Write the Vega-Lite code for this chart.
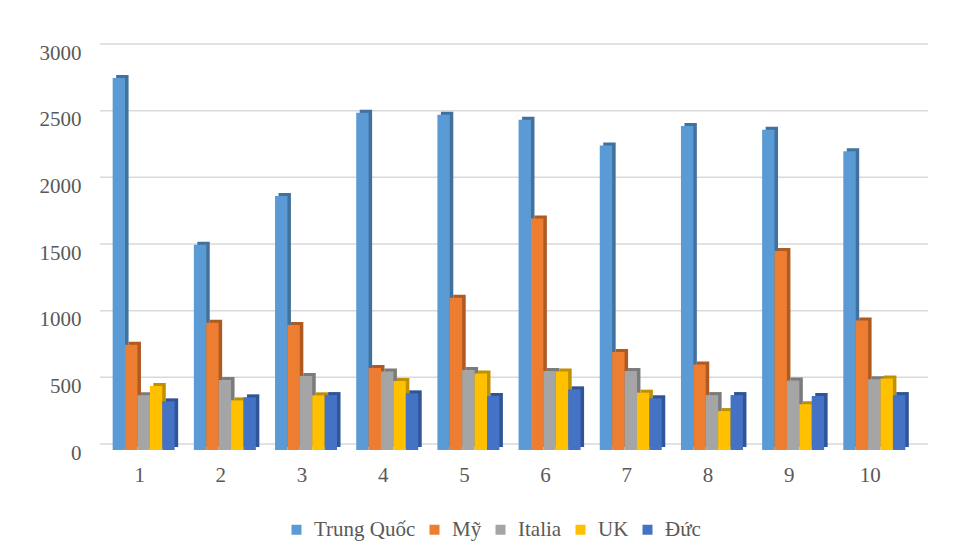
{
  "$schema": "https://vega.github.io/schema/vega-lite/v6.json",
  "width": 818,
  "height": 400,
  "autosize": "none",
  "padding": {"left": 100, "top": 50, "right": 38, "bottom": 110},
  "background": "white",
  "config": {
    "view": {"stroke": null},
    "font": "Liberation Serif",
    "axis": {"labelFont": "Liberation Serif", "labelFontSize": 21, "labelColor": "#595959"},
    "legend": {"labelFont": "Liberation Serif", "labelFontSize": 21, "labelColor": "#595959"}
  },
  "datasets": {
    "values": [
      {"nam": "1", "nuoc": "Trung Quốc", "gia_tri": 2790},
      {"nam": "1", "nuoc": "Mỹ", "gia_tri": 790},
      {"nam": "1", "nuoc": "Italia", "gia_tri": 410},
      {"nam": "1", "nuoc": "UK", "gia_tri": 480},
      {"nam": "1", "nuoc": "Đức", "gia_tri": 365},
      {"nam": "2", "nuoc": "Trung Quốc", "gia_tri": 1540},
      {"nam": "2", "nuoc": "Mỹ", "gia_tri": 955},
      {"nam": "2", "nuoc": "Italia", "gia_tri": 525},
      {"nam": "2", "nuoc": "UK", "gia_tri": 372},
      {"nam": "2", "nuoc": "Đức", "gia_tri": 395},
      {"nam": "3", "nuoc": "Trung Quốc", "gia_tri": 1905},
      {"nam": "3", "nuoc": "Mỹ", "gia_tri": 937},
      {"nam": "3", "nuoc": "Italia", "gia_tri": 555},
      {"nam": "3", "nuoc": "UK", "gia_tri": 410},
      {"nam": "3", "nuoc": "Đức", "gia_tri": 412},
      {"nam": "4", "nuoc": "Trung Quốc", "gia_tri": 2530},
      {"nam": "4", "nuoc": "Mỹ", "gia_tri": 615},
      {"nam": "4", "nuoc": "Italia", "gia_tri": 588},
      {"nam": "4", "nuoc": "UK", "gia_tri": 517},
      {"nam": "4", "nuoc": "Đức", "gia_tri": 425},
      {"nam": "5", "nuoc": "Trung Quốc", "gia_tri": 2515},
      {"nam": "5", "nuoc": "Mỹ", "gia_tri": 1142},
      {"nam": "5", "nuoc": "Italia", "gia_tri": 600},
      {"nam": "5", "nuoc": "UK", "gia_tri": 573},
      {"nam": "5", "nuoc": "Đức", "gia_tri": 405},
      {"nam": "6", "nuoc": "Trung Quốc", "gia_tri": 2477},
      {"nam": "6", "nuoc": "Mỹ", "gia_tri": 1737},
      {"nam": "6", "nuoc": "Italia", "gia_tri": 592},
      {"nam": "6", "nuoc": "UK", "gia_tri": 588},
      {"nam": "6", "nuoc": "Đức", "gia_tri": 455},
      {"nam": "7", "nuoc": "Trung Quốc", "gia_tri": 2284},
      {"nam": "7", "nuoc": "Mỹ", "gia_tri": 735},
      {"nam": "7", "nuoc": "Italia", "gia_tri": 592},
      {"nam": "7", "nuoc": "UK", "gia_tri": 430},
      {"nam": "7", "nuoc": "Đức", "gia_tri": 388},
      {"nam": "8", "nuoc": "Trung Quốc", "gia_tri": 2430},
      {"nam": "8", "nuoc": "Mỹ", "gia_tri": 642},
      {"nam": "8", "nuoc": "Italia", "gia_tri": 412},
      {"nam": "8", "nuoc": "UK", "gia_tri": 292},
      {"nam": "8", "nuoc": "Đức", "gia_tri": 412},
      {"nam": "9", "nuoc": "Trung Quốc", "gia_tri": 2402},
      {"nam": "9", "nuoc": "Mỹ", "gia_tri": 1492},
      {"nam": "9", "nuoc": "Italia", "gia_tri": 522},
      {"nam": "9", "nuoc": "UK", "gia_tri": 343},
      {"nam": "9", "nuoc": "Đức", "gia_tri": 405},
      {"nam": "10", "nuoc": "Trung Quốc", "gia_tri": 2241},
      {"nam": "10", "nuoc": "Mỹ", "gia_tri": 972},
      {"nam": "10", "nuoc": "Italia", "gia_tri": 530},
      {"nam": "10", "nuoc": "UK", "gia_tri": 537},
      {"nam": "10", "nuoc": "Đức", "gia_tri": 412}
    ],
    "grid": [
      {"muc": 0}, {"muc": 500}, {"muc": 1000}, {"muc": 1500},
      {"muc": 2000}, {"muc": 2500}, {"muc": 3000}
    ]
  },
  "layer": [
    {
      "data": {"name": "grid"},
      "mark": {"type": "rule", "color": "#D9D9D9", "strokeWidth": 1.5, "xOffset": 10, "yOffset": -6},
      "encoding": {
        "y": {"field": "muc", "type": "quantitative", "scale": {"domain": [0, 3000]},
              "axis": {"title": null, "values": [0, 500, 1000, 1500, 2000, 2500, 3000], "format": "d",
                       "domain": false, "ticks": false, "grid": false, "labelPadding": 19, "labelOffset": 3}}
      }
    },
    {
      "data": {"name": "values"},
      "mark": {"type": "bar", "yOffset": -3},
      "encoding": {
        "x": {"field": "nam", "type": "nominal", "sort": null,
              "scale": {"paddingInner": 0.236, "paddingOuter": 0.156},
              "axis": {"title": null, "labelAngle": 0, "domain": false, "ticks": false, "labelPadding": 14, "labelOffset": -4}},
        "xOffset": {"field": "nuoc", "type": "nominal",
                    "sort": ["Trung Quốc", "Mỹ", "Italia", "UK", "Đức"],
                    "scale": {"range": [3.5, 65.5], "paddingInner": 0, "paddingOuter": 0}},
        "y": {"field": "gia_tri", "type": "quantitative"},
        "color": {"field": "nuoc", "type": "nominal",
                  "scale": {"domain": ["Trung Quốc", "Mỹ", "Italia", "UK", "Đức"],
                            "range": ["#41719C", "#AE5A21", "#7B7B7B", "#BF9000", "#2F5597"]},
                  "legend": null}
      }
    },
    {
      "data": {"name": "values"},
      "mark": {"type": "bar"},
      "encoding": {
        "x": {"field": "nam", "type": "nominal", "sort": null},
        "xOffset": {"field": "nuoc", "type": "nominal", "sort": ["Trung Quốc", "Mỹ", "Italia", "UK", "Đức"],
                    "scale": {"range": [0, 62], "paddingInner": 0, "paddingOuter": 0}},
        "y": {"field": "gia_tri", "type": "quantitative"},
        "color": {"field": "nuoc", "type": "nominal",
                  "scale": {"domain": ["Trung Quốc", "Mỹ", "Italia", "UK", "Đức"],
                            "range": ["#5B9BD5", "#ED7D31", "#A5A5A5", "#FFC000", "#4472C4"]},
                  "legend": {"title": null, "orient": "none", "direction": "horizontal",
                             "legendX": 186, "legendY": 469,
                             "symbolType": "square", "symbolSize": 100, "symbolStrokeWidth": 0,
                             "labelOffset": 7, "columnPadding": 8}}
      }
    }
  ],
  "resolve": {"scale": {"color": "independent", "xOffset": "independent"}}
}
